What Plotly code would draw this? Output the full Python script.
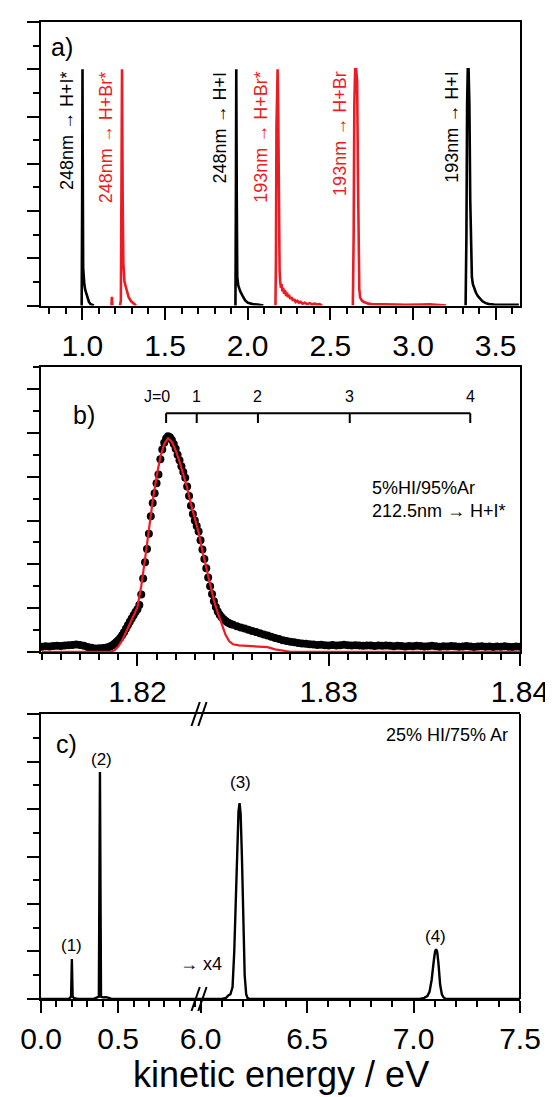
import plotly.graph_objects as go

BLACK = "#000000"
RED = "#ed1c24"
FONT = "Liberation Sans, Arial, sans-serif"

# ---------------- panel a : H-atom KE spectra (normalised) ----------------
a_248_HIs_energy = [0.990, 0.996, 0.999, 1.001, 1.003, 1.005, 1.008, 1.012, 1.018, 1.025, 1.032, 1.040, 1.050, 1.060, 1.070]
a_248_HIs_signal = [0, 0, 0.45, 1.0, 0.5, 0.16, 0.11, 0.09, 0.065, 0.045, 0.028, 0.015, 0.006, 0.002, 0]

a_248_HBrs_energy = [1.176, 1.179, 1.182, None, 1.228, 1.233, 1.237, 1.240, 1.244, 1.248, 1.255, 1.265, 1.280, 1.295, 1.310, 1.325]
a_248_HBrs_signal = [0, 0.037, 0, None, 0, 0.02, 0.55, 1.0, 0.45, 0.18, 0.10, 0.07, 0.035, 0.018, 0.008, 0]

a_248_HI_energy = [1.920, 1.926, 1.929, 1.931, 1.934, 1.937, 1.943, 1.955, 1.970, 1.985, 2.000, 2.030, 2.060, 2.085, 2.095]
a_248_HI_signal = [0, 0, 0.5, 1.0, 0.45, 0.12, 0.085, 0.06, 0.04, 0.022, 0.012, 0.006, 0.004, 0.002, 0]

a_193_HBrs_energy = [2.168, 2.171, 2.174, 2.177, 2.181, 2.185, 2.189, 2.193, 2.197, 2.201, 2.205, 2.210, 2.215, 2.220,
                     2.226, 2.232, 2.238, 2.244, 2.250, 2.258, 2.266, 2.274, 2.282, 2.290, 2.300, 2.310, 2.320, 2.332,
                     2.345, 2.360, 2.375, 2.390, 2.405, 2.420, 2.435, 2.450]
a_193_HBrs_signal = [0, 0.2, 0.75, 1.0, 1.0, 0.8, 0.35, 0.15, 0.10, 0.075, 0.09, 0.06, 0.075, 0.05,
                     0.065, 0.04, 0.055, 0.035, 0.045, 0.028, 0.035, 0.02, 0.028, 0.015, 0.02, 0.012, 0.016, 0.008,
                     0.012, 0.006, 0.01, 0.005, 0.008, 0.004, 0.006, 0]

a_193_HBr_energy = [2.636, 2.641, 2.645, 2.650, 2.656, 2.662, 2.667, 2.671, 2.675, 2.680, 2.690, 2.700, 2.715,
                    2.730, 2.750, 2.780, 2.820, 2.860, 2.900, 2.950, 3.000, 3.050, 3.100, 3.150, 3.200]
a_193_HBr_signal = [0, 0.3, 0.85, 1.0, 1.0, 0.95, 0.55, 0.2, 0.07, 0.035, 0.022, 0.016, 0.011,
                    0.008, 0.006, 0.005, 0.004, 0.005, 0.004, 0.003, 0.005, 0.004, 0.005, 0.004, 0]

a_193_HI_energy = [3.318, 3.323, 3.327, 3.331, 3.336, 3.341, 3.346, 3.351, 3.356, 3.362, 3.370, 3.380, 3.392,
                   3.405, 3.420, 3.440, 3.460, 3.490, 3.520, 3.560, 3.600, 3.640]
a_193_HI_signal = [0, 0.3, 0.85, 1.0, 1.0, 0.85, 0.45, 0.2, 0.12, 0.09, 0.07, 0.055, 0.04,
                   0.028, 0.018, 0.01, 0.006, 0.004, 0.003, 0.004, 0.003, 0.003]

a_label_energy = [1.000, 1.240, 1.931, 2.181, 2.656, 3.336]
a_label_text = ["248nm → H+I*", "248nm → H+Br*", "248nm → H+I", "193nm → H+Br*", "193nm → H+Br", "193nm → H+I"]
a_label_color = [BLACK, RED, BLACK, RED, RED, BLACK]

# ---------------- panel b : 212.5 nm -> H + I* ----------------
b_energy = [
    # low-energy baseline
    1.8150, 1.8152, 1.8154, 1.8156, 1.8158, 1.8160, 1.8162, 1.8164, 1.8166, 1.8168,
    1.8170, 1.8172, 1.8174, 1.8176, 1.8178, 1.8180, 1.8182, 1.8184,
    # peak
    1.8185, 1.8186, 1.8187, 1.8188, 1.8189, 1.8190, 1.8191, 1.8192, 1.8193, 1.8194,
    1.8195, 1.8196, 1.8197, 1.8198, 1.8199, 1.8200, 1.8201, 1.8202, 1.8203, 1.8204,
    1.8205, 1.8206, 1.8207, 1.8208, 1.8209, 1.8210, 1.8211, 1.8212, 1.8213, 1.8214,
    1.8215, 1.8216, 1.8217, 1.8218, 1.8219, 1.8220, 1.8221, 1.8222, 1.8223, 1.8224,
    1.8225, 1.8226, 1.8227, 1.8228, 1.8229, 1.8230, 1.8231, 1.8232, 1.8233, 1.8234,
    1.8235, 1.8236, 1.8237, 1.8238, 1.8239, 1.8240, 1.8241, 1.8242, 1.8243, 1.8244,
    1.8245, 1.8246, 1.8247, 1.8248, 1.8249, 1.8250,
    # high-energy tail
    1.8252, 1.8254, 1.8256, 1.8258, 1.8260, 1.8262, 1.8264, 1.8266, 1.8268, 1.8270,
    1.8272, 1.8274, 1.8276, 1.8278, 1.8280, 1.8282, 1.8284, 1.8286, 1.8288, 1.8290,
    1.8292, 1.8294, 1.8296, 1.8298, 1.8300, 1.8302, 1.8304, 1.8306, 1.8308, 1.8310,
    1.8312, 1.8314, 1.8316, 1.8318, 1.8320, 1.8322, 1.8324, 1.8326, 1.8328, 1.8330,
    1.8332, 1.8334, 1.8336, 1.8338, 1.8340, 1.8342, 1.8344, 1.8346, 1.8348, 1.8350,
    1.8352, 1.8354, 1.8356, 1.8358, 1.8360, 1.8362, 1.8364, 1.8366, 1.8368, 1.8370,
    1.8372, 1.8374, 1.8376, 1.8378, 1.8380, 1.8382, 1.8384, 1.8386, 1.8388, 1.8390,
    1.8392, 1.8394, 1.8396, 1.8398, 1.8400]
b_signal = [
    0.024, 0.026, 0.025, 0.027, 0.028, 0.027, 0.029, 0.031, 0.032, 0.034,
    0.032, 0.028, 0.023, 0.019, 0.016, 0.017, 0.018, 0.020,
    0.022, 0.026, 0.031, 0.037, 0.045, 0.054, 0.064, 0.076, 0.090, 0.106,
    0.122, 0.138, 0.153, 0.168, 0.182, 0.195, 0.215, 0.262, 0.335, 0.410,
    0.470, 0.540, 0.620, 0.680, 0.725, 0.770, 0.810, 0.880, 0.925, 0.955,
    0.975, 0.985, 0.980, 0.968, 0.950, 0.928, 0.900, 0.875, 0.848, 0.822,
    0.795, 0.755, 0.712, 0.668, 0.630, 0.600, 0.575, 0.550, 0.510, 0.468,
    0.425, 0.382, 0.340, 0.300, 0.265, 0.232, 0.205, 0.185, 0.170, 0.158,
    0.149, 0.142, 0.136, 0.131, 0.127, 0.124,
    0.118, 0.112, 0.107, 0.101, 0.096, 0.091, 0.086, 0.080, 0.075, 0.069,
    0.064, 0.059, 0.054, 0.050, 0.047, 0.044, 0.041, 0.039, 0.037, 0.035,
    0.034, 0.032, 0.033, 0.031, 0.030, 0.032, 0.030, 0.031, 0.033, 0.031,
    0.029, 0.031, 0.030, 0.028, 0.030, 0.029, 0.027, 0.029, 0.028, 0.030,
    0.028, 0.026, 0.028, 0.027, 0.025, 0.027, 0.026, 0.028, 0.027, 0.025,
    0.026, 0.028, 0.026, 0.024, 0.026, 0.025, 0.027, 0.026, 0.024, 0.025,
    0.027, 0.025, 0.023, 0.025, 0.026, 0.024, 0.025, 0.023, 0.025, 0.024,
    0.026, 0.024, 0.023, 0.025, 0.024]

b_fit_energy = [1.8150, 1.8186, 1.8188, 1.8190, 1.8192, 1.8194, 1.8196, 1.8198, 1.8200, 1.8202, 1.8204,
                1.8206, 1.8208, 1.8210, 1.8212, 1.8214, 1.8216, 1.8218, 1.8220, 1.8222, 1.8224, 1.8226,
                1.8228, 1.8230, 1.8232, 1.8234, 1.8236, 1.8238, 1.8240, 1.8242, 1.8244, 1.8246, 1.8248,
                1.8250, 1.8253, 1.8258, 1.8264, 1.8268, 1.8272, 1.8276, 1.8280, 1.8290, 1.8400]
b_fit_signal = [0, 0, 0.008, 0.025, 0.052, 0.088, 0.128, 0.165, 0.205, 0.300, 0.425,
                0.560, 0.690, 0.800, 0.890, 0.950, 0.975, 0.960, 0.920, 0.870, 0.815, 0.750,
                0.675, 0.605, 0.545, 0.460, 0.380, 0.300, 0.235, 0.180, 0.125, 0.080, 0.049,
                0.035, 0.030, 0.028, 0.027, 0.022, 0.012, 0.005, 0.001, 0, 0]

b_j_energy = [1.8215, 1.8231, 1.8263, 1.8311, 1.8374]
b_j_text = ["J=0", "1", "2", "3", "4"]
b_note = "5%HI/95%Ar<br>212.5nm → H+I*"

# ---------------- panel c : 25% HI / 75% Ar, broken axis ----------------
c_low_energy = [0.00, 0.18, 0.195, 0.200, 0.205, 0.215, 0.24, 0.34, 0.36, 0.375, 0.382, 0.389, 0.40, 0.42, 0.44, 0.46, 1.00]
c_low_signal = [0, 0, 0.01, 0.168, 0.01, 0.003, 0, 0, 0.006, 0.01, 0.956, 0.01, 0.007, 0.008, 0.005, 0, 0]

c_high_energy = [5.975, 6.100, 6.120, 6.130, 6.140, 6.150, 6.158, 6.165, 6.172, 6.178, 6.183, 6.188, 6.194,
                 6.200, 6.207, 6.214, 6.220, 6.230, 7.030, 7.050, 7.065, 7.075, 7.085, 7.095, 7.101,
                 7.106, 7.111, 7.117, 7.125, 7.133, 7.140, 7.150, 7.500]
c_high_signal = [0, 0, 0.005, 0.015, 0.02, 0.05, 0.2, 0.42, 0.65, 0.79, 0.825, 0.78, 0.6,
                 0.3, 0.1, 0.02, 0.005, 0, 0, 0.005, 0.012, 0.03, 0.08, 0.16, 0.2,
                 0.209, 0.2, 0.15, 0.06, 0.02, 0.008, 0, 0]

c_label_text = ["(1)", "(2)", "(3)", "(4)"]
c_label_energy = [0.20, 0.39, 6.186, 7.102]
c_label_y = [0.224, 1.008, 0.913, 0.262]
c_label_axis = ["x3", "x3", "x4", "x4"]

assert len(b_energy) == len(b_signal)
assert len(b_fit_energy) == len(b_fit_signal)
assert len(c_high_energy) == len(c_high_signal)
assert len(c_low_energy) == len(c_low_signal)

fig = go.Figure()

a_series = [
    (a_248_HIs_energy, a_248_HIs_signal, BLACK),
    (a_248_HBrs_energy, a_248_HBrs_signal, RED),
    (a_248_HI_energy, a_248_HI_signal, BLACK),
    (a_193_HBrs_energy, a_193_HBrs_signal, RED),
    (a_193_HBr_energy, a_193_HBr_signal, RED),
    (a_193_HI_energy, a_193_HI_signal, BLACK),
]
for xs, ys, col in a_series:
    fig.add_trace(go.Scatter(x=xs, y=ys, mode="lines", line=dict(color=col, width=2.6),
                             xaxis="x", yaxis="y", showlegend=False, hoverinfo="skip",
                             connectgaps=False))

fig.add_trace(go.Scatter(x=b_energy, y=b_signal, mode="markers",
                         marker=dict(color=BLACK, size=8, line=dict(width=0)),
                         xaxis="x2", yaxis="y2", showlegend=False, hoverinfo="skip"))
fig.add_trace(go.Scatter(x=b_fit_energy, y=b_fit_signal, mode="lines",
                         line=dict(color=RED, width=2.2),
                         xaxis="x2", yaxis="y2", showlegend=False, hoverinfo="skip"))

fig.add_trace(go.Scatter(x=c_low_energy, y=c_low_signal, mode="lines", line=dict(color=BLACK, width=2.4),
                         xaxis="x3", yaxis="y3", showlegend=False, hoverinfo="skip"))
fig.add_trace(go.Scatter(x=c_high_energy, y=c_high_signal, mode="lines", line=dict(color=BLACK, width=2.4),
                         xaxis="x4", yaxis="y3", showlegend=False, hoverinfo="skip"))

tickfont = dict(family=FONT, size=30, color=BLACK)
common_x = dict(showline=True, linewidth=2, linecolor=BLACK, ticks="outside", ticklen=12, tickwidth=2,
                tickcolor=BLACK, showgrid=False, zeroline=False, tickfont=tickfont, fixedrange=True)
common_y = dict(showline=True, linewidth=2, linecolor=BLACK, ticks="outside", ticklen=12, tickwidth=2,
                tickcolor=BLACK, showgrid=False, zeroline=False, showticklabels=False,
                tickmode="linear", tick0=0, dtick=0.2,
                minor=dict(ticks="outside", ticklen=6, tickwidth=2, tickcolor=BLACK, dtick=0.1, tick0=0,
                           showgrid=False))


def mx(d):
    return dict(ticks="outside", ticklen=6, tickwidth=2, tickcolor=BLACK, dtick=d, showgrid=False)


DA = [0.7098, 1.0]
DB = [0.3552, 0.6466]
DC = [0.0, 0.2917]
SPLIT = 0.3221

fig.update_layout(
    width=553, height=1097,
    margin=dict(l=33, r=31, t=14, b=106),
    paper_bgcolor="white", plot_bgcolor="white",
    font=dict(family=FONT, color=BLACK),
    xaxis=dict(common_x, domain=[0, 1], anchor="y", range=[0.750, 3.647], mirror=True,
               tickmode="linear", tick0=0, dtick=0.5, tickformat=".1f", minor=mx(0.1)),
    yaxis=dict(common_y, domain=DA, anchor="x", range=[0, 1.2], mirror=True),
    xaxis2=dict(common_x, domain=[0, 1], anchor="y2", range=[1.81496, 1.8400], mirror=True,
                tickmode="linear", tick0=1.82, dtick=0.01, tickformat=".2f", minor=mx(0.001)),
    yaxis2=dict(common_y, domain=DB, anchor="x2", range=[0, 1.3], mirror=True),
    xaxis3=dict(common_x, domain=[0, SPLIT], anchor="y3", range=[0, 1.0], mirror=True,
                tickmode="array", tickvals=[0, 0.5], ticktext=["0.0", "0.5"],
                minor=dict(mx(0.1), tickmode="linear", tick0=0)),
    xaxis4=dict(common_x, domain=[SPLIT, 1], anchor="y3", range=[5.975, 7.5], mirror=True,
                tickmode="linear", tick0=6.0, dtick=0.5, tickformat=".1f", minor=mx(0.1)),
    yaxis3=dict(common_y, domain=DC, anchor="x3", range=[0, 1.2], mirror=False),
)

shapes = []
# right border of panel c
shapes.append(dict(type="line", xref="paper", yref="paper", x0=1, x1=1, y0=DC[0], y1=DC[1],
                   line=dict(color=BLACK, width=2)))
# axis-break marks on panel c (top and bottom)
for yb in (DC[1], DC[0]):
    for off in (-3.8, 3.0):
        shapes.append(dict(type="line", xref="paper", yref="paper",
                           xsizemode="pixel", xanchor=SPLIT, ysizemode="pixel", yanchor=yb,
                           x0=off, x1=off + 8.3, y0=-12, y1=12,
                           line=dict(color=BLACK, width=2)))
# J ladder in panel b
LADDER_Y, LADDER_TICK = 1.09, 1.045
shapes.append(dict(type="line", xref="x2", yref="y2", x0=b_j_energy[0], x1=b_j_energy[-1],
                   y0=LADDER_Y, y1=LADDER_Y, line=dict(color=BLACK, width=2)))
for ej in b_j_energy:
    shapes.append(dict(type="line", xref="x2", yref="y2", x0=ej, x1=ej, y0=LADDER_TICK, y1=LADDER_Y,
                       line=dict(color=BLACK, width=2)))

annotations = []
for xe, txt, col in zip(a_label_energy, a_label_text, a_label_color):
    annotations.append(dict(x=xe, y=1.0, xref="x", yref="y", text=txt, textangle=-90, showarrow=False,
                            xanchor="right", yanchor="top", xshift=-4,
                            font=dict(family=FONT, size=18, color=col)))
annotations.append(dict(x=0.880, y=1.095, xref="x", yref="y", text="a)", showarrow=False,
                        xanchor="center", yanchor="middle", font=dict(family=FONT, size=25)))
annotations.append(dict(x=1.8172, y=1.084, xref="x2", yref="y2", text="b)", showarrow=False,
                        xanchor="center", yanchor="middle", font=dict(family=FONT, size=25)))
for i, (ej, tj) in enumerate(zip(b_j_energy, b_j_text)):
    annotations.append(dict(x=ej, y=1.168, xref="x2", yref="y2", text=tj, showarrow=False,
                            xanchor="right" if i == 0 else "center", xshift=6 if i == 0 else 0,
                            yanchor="middle", font=dict(family=FONT, size=16)))
annotations.append(dict(x=1.83218, y=0.695, xref="x2", yref="y2", text=b_note, showarrow=False,
                        xanchor="left", yanchor="middle", align="left", font=dict(family=FONT, size=18)))
annotations.append(dict(x=0.165, y=1.075, xref="x3", yref="y3", text="c)", showarrow=False,
                        xanchor="center", yanchor="middle", font=dict(family=FONT, size=25)))
annotations.append(dict(x=7.451, y=1.113, xref="x4", yref="y3", text="25% HI/75% Ar", showarrow=False,
                        xanchor="right", yanchor="middle", font=dict(family=FONT, size=18)))
for txt, xe, ye, ax in zip(c_label_text, c_label_energy, c_label_y, c_label_axis):
    annotations.append(dict(x=xe, y=ye, xref=ax, yref="y3", text=txt, showarrow=False,
                            xanchor="center", yanchor="middle", font=dict(family=FONT, size=17)))
annotations.append(dict(x=6.0, y=0.146, xref="x4", yref="y3", text="→ x4", showarrow=False,
                        xanchor="center", yanchor="middle", font=dict(family=FONT, size=18)))
annotations.append(dict(x=0.5, y=-0.0768, xref="paper", yref="paper", text="kinetic energy / eV",
                        showarrow=False, xanchor="center", yanchor="middle",
                        font=dict(family=FONT, size=36)))

fig.update_layout(shapes=shapes, annotations=annotations)
fig.write_html("out.html")
